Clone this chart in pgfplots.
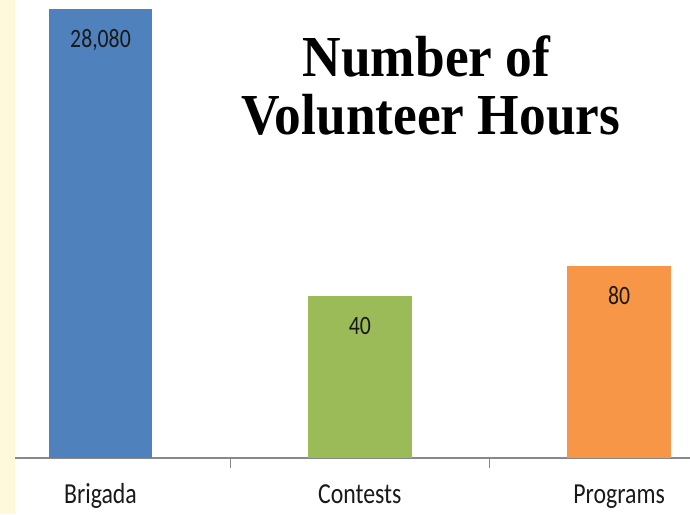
\documentclass[border=0pt]{standalone}
\usepackage{fontspec}
\usepackage{pgfplots}
\pgfplotsset{compat=1.18}
\setmainfont{Carlito}
\newfontfamily\labfont[FakeStretch=0.82]{Carlito}
\newfontfamily\titlefont[FakeStretch=0.92]{Liberation Serif}
\definecolor{barblue}{HTML}{4F81BD}
\definecolor{bargreen}{HTML}{9BBB59}
\definecolor{barorange}{HTML}{F79646}
\definecolor{strip}{HTML}{FFF9DC}
\definecolor{axisgray}{HTML}{898989}
\begin{document}
\begin{tikzpicture}
\useasboundingbox (0,0) rectangle (690pt,514pt);
\fill[strip] (0,0) rectangle (14.7pt,514pt);
\begin{axis}[
    at={(15pt,56pt)}, anchor=south west,
    scale only axis, width=675pt, height=458pt,
    ybar, bar width=103.6pt, bar shift=0pt,
    ymode=log, ymin=1, ymax=34480,
    xmin=-0.3297, xmax=2.2734,
    axis x line*=bottom, hide y axis,
    x axis line style={draw=axisgray, line width=1.6pt},
    xtick={0,1,2},
    xticklabels={Brigada,Contests,Programs},
    major tick length=0pt,
    xticklabel style={font=\labfont\fontsize{29}{29}\selectfont, anchor=base, yshift=-45pt, text=black!90},
    extra x ticks={0.5,1.5},
    extra x tick labels={},
    extra x tick style={major tick length=10pt, tick align=outside, tick style={draw=axisgray, line width=1pt}},
    point meta=rawy,
    nodes near coords,
    /pgf/number format/assume math mode=true,
    /pgf/number format/.cd, fixed, precision=0, 1000 sep={,}, /pgfplots/.cd,
    every node near coord/.style={font=\labfont\fontsize{26.5}{26.5}\selectfont, anchor=base, yshift=-38.5pt, text=black!90},
]
\addplot[fill=barblue, draw=none] coordinates {(0,28080)};
\addplot[fill=bargreen, draw=none] coordinates {(1,40)};
\addplot[fill=barorange, draw=none] coordinates {(2,80)};
\end{axis}
\node[anchor=base, font=\titlefont\bfseries\fontsize{58}{58}\selectfont] at (426.5pt,437.3pt) {Number of};
\node[anchor=base, font=\titlefont\bfseries\fontsize{58}{58}\selectfont] at (430.8pt,379pt) {Volunteer Hours};
\end{tikzpicture}
\end{document}
